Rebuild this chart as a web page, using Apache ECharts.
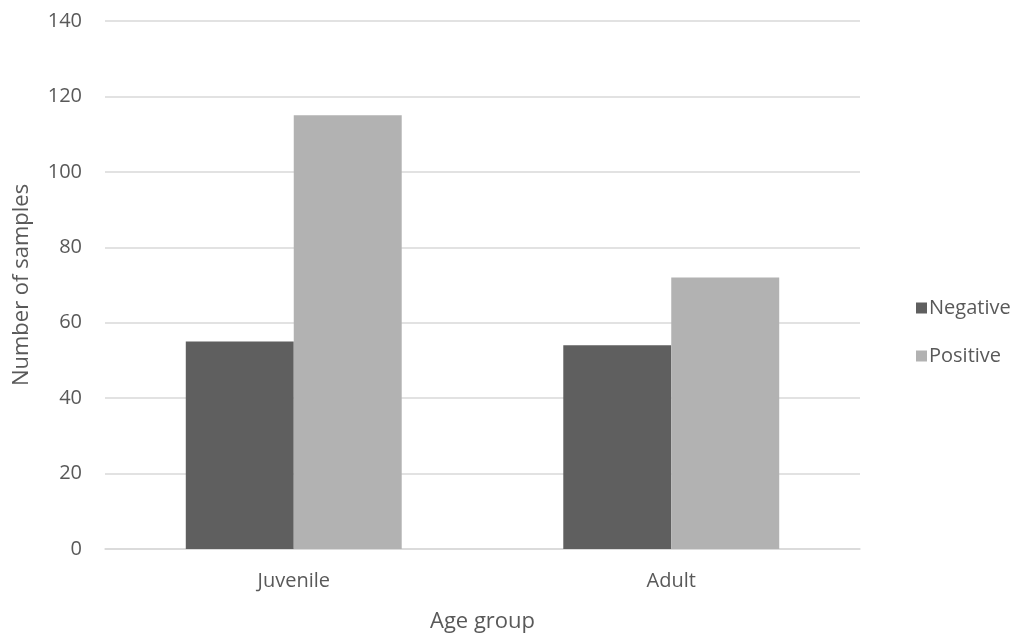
<!DOCTYPE html>
<html>
<head>
<meta charset="utf-8">
<script src="https://cdn.jsdelivr.net/npm/echarts@6/dist/echarts.min.js"></script>
<style>
  html, body { margin: 0; padding: 0; background: #ffffff; }
  #chart { width: 1019px; height: 634px; }
</style>
</head>
<body>
<div id="chart"></div>
<script>
// Sample counts by age group and test result
const categories = ['Juvenile', 'Adult'];
const negative = [55, 54];
const positive = [115, 72];
const seriesNames = ['Negative', 'Positive'];
const yTicks = { min: 0, max: 140, interval: 20 };

const textColor = '#595959';
const fontFamily = '"Open Sans", "Liberation Sans", sans-serif';

const chart = echarts.init(document.getElementById('chart'), null, { renderer: 'canvas' });
chart.setOption({
  animation: false,
  backgroundColor: '#ffffff',
  textStyle: { fontFamily: fontFamily, color: textColor },
  grid: {
    left: 105, right: 159, top: 21, bottom: 85,
    containLabel: false,
    outerBoundsMode: 'none'
  },
  legend: {
    orient: 'vertical',
    left: 911,
    top: 293,
    itemWidth: 11,
    itemHeight: 11,
    itemGap: 28,
    icon: 'rect',
    textStyle: { fontSize: 20, color: textColor, fontFamily: fontFamily, padding: [0, 0, 0, -3] },
    data: seriesNames
  },
  xAxis: {
    type: 'category',
    data: categories,
    name: 'Age group',
    nameLocation: 'middle',
    nameGap: 62,
    nameTextStyle: { fontSize: 22, color: textColor, fontFamily: fontFamily },
    axisLine: { show: true, lineStyle: { color: '#d9d9d9', width: 1.5 } },
    axisTick: { show: false },
    axisLabel: { fontSize: 20, color: textColor, margin: 22, fontFamily: fontFamily }
  },
  yAxis: {
    type: 'value',
    min: yTicks.min,
    max: yTicks.max,
    interval: yTicks.interval,
    name: 'Number of samples',
    nameLocation: 'middle',
    nameGap: 72,
    nameTextStyle: { fontSize: 22, color: textColor, fontFamily: fontFamily },
    axisLine: { show: false },
    axisTick: { show: false },
    axisLabel: { fontSize: 20, color: textColor, margin: 23, fontFamily: fontFamily },
    splitLine: { lineStyle: { color: '#d9d9d9', width: 1.5 } }
  },
  series: [
    {
      name: seriesNames[0],
      type: 'bar',
      data: negative,
      barGap: '0%',
      barCategoryGap: '42.8%',
      itemStyle: { color: '#5f5f5f' }
    },
    {
      name: seriesNames[1],
      type: 'bar',
      data: positive,
      barGap: '0%',
      barCategoryGap: '42.8%',
      itemStyle: { color: '#b2b2b2' }
    }
  ]
});
</script>
</body>
</html>
